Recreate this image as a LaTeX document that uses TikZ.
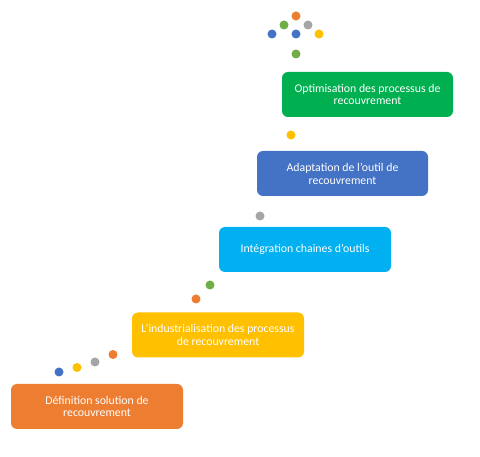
\documentclass[tikz,border=0pt]{standalone}
\usepackage{fontspec}
\setmainfont{Carlito}
\definecolor{corange}{HTML}{ED7D31}
\definecolor{cyellow}{HTML}{FFC000}
\definecolor{ccyan}{HTML}{00B0F0}
\definecolor{cblue}{HTML}{4472C4}
\definecolor{cgreen}{HTML}{00B050}
\definecolor{cgray}{HTML}{A5A5A5}
\definecolor{cdgreen}{HTML}{70AD47}
\tikzset{
  stepbox/.style={draw=none, rounded corners=6pt, minimum width=172pt, minimum height=45pt,
    text=white, align=center, font=\fontsize{11.8pt}{12.8pt}\selectfont, inner sep=0pt},
  dot/.style={circle, draw=none, minimum size=9pt, inner sep=0pt}
}
\begin{document}
\begin{tikzpicture}[x=1pt,y=-1pt]
\useasboundingbox[fill=white] (0,0) rectangle (480,457);
% boxes
\node[stepbox, fill=corange] (b1) at (97,406.5) {Définition solution de\\recouvrement};
\node[stepbox, fill=cyellow] (b2) at (218,335) {L'industrialisation des processus\\de recouvrement};
\node[stepbox, fill=ccyan] (b3) at (305,249.5) {Intégration chaines d'outils};
\node[stepbox, fill=cblue, minimum width=171pt] (b4) at (342.5,173.5) {Adaptation de l'outil de\\recouvrement};
\node[stepbox, fill=cgreen, minimum width=171pt] (b5) at (367.5,94.5) {Optimisation des processus de\\recouvrement};
% dots bottom
\node[dot, fill=cblue] (d1) at (59,372) {};
\node[dot, fill=cyellow] (d2) at (77,367.5) {};
\node[dot, fill=cgray] (d3) at (95,362) {};
\node[dot, fill=corange] (d4) at (113,354.5) {};
\node[dot, fill=corange] (d5) at (196,299) {};
\node[dot, fill=cdgreen] (d6) at (210,285) {};
\node[dot, fill=cgray] (d7) at (260,216) {};
\node[dot, fill=cyellow] (d8) at (291,135) {};
% top cluster
\node[dot, fill=corange] (t1) at (296,16) {};
\node[dot, fill=cdgreen] (t2) at (284,25) {};
\node[dot, fill=cgray] (t3) at (308,25) {};
\node[dot, fill=cblue] (t4) at (272,34) {};
\node[dot, fill=cblue] (t5) at (296,34) {};
\node[dot, fill=cyellow] (t6) at (319,34) {};
\node[dot, fill=cdgreen] (t7) at (296,54) {};
\end{tikzpicture}
\end{document}
